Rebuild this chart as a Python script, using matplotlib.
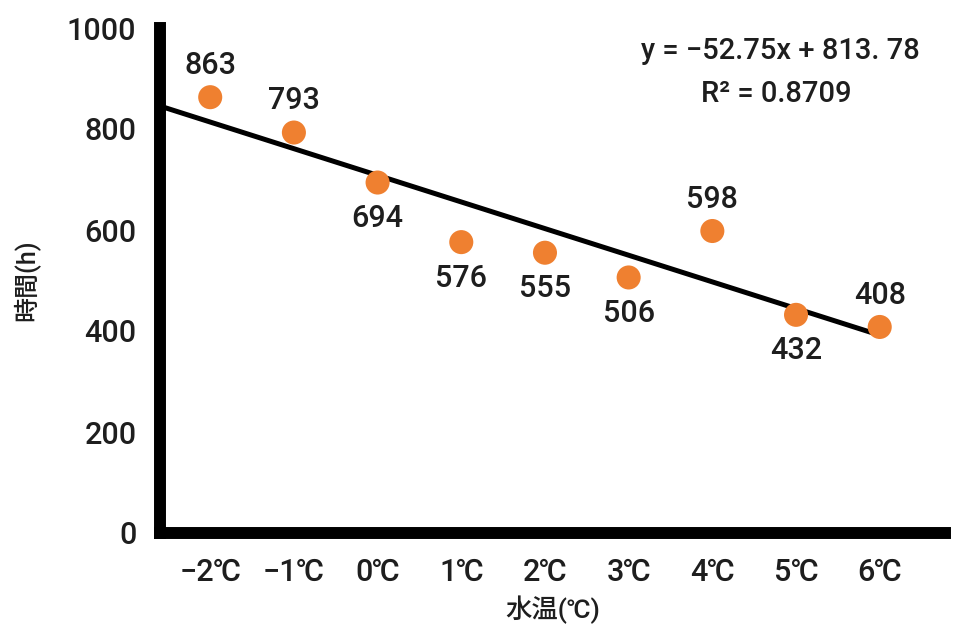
import numpy as np
from matplotlib import pyplot as plt

plt.rcParams['font.family'] = ['Roboto', 'Noto Sans CJK JP', 'DejaVu Sans']

temps = [-2, -1, 0, 1, 2, 3, 4, 5, 6]
tick_labels = ['−2℃', '−1℃', '0℃', '1℃', '2℃', '3℃', '4℃', '5℃', '6℃']
hours = [863, 793, 694, 576, 555, 506, 598, 432, 408]
label_above = [True, True, False, False, False, False, True, False, True]

txt_col = '#1e1e1e'

fig = plt.figure(figsize=(9.57, 6.35), dpi=100)
ax = fig.add_axes([160 / 957, 102 / 635, 785 / 957, 505 / 635])

# trend line, extended back to the axis
slope, icept = np.polyfit(temps, hours, 1)
xl = np.array([-2.6, 6])
ax.plot(xl, slope * xl + icept, color='black', lw=3.6, zorder=2, solid_capstyle='butt')

ax.scatter(temps, hours, s=300, color='#ef8030', edgecolors='none', zorder=3)

for x, y, up in zip(temps, hours, label_above):
    ax.annotate(str(y), (x, y), xytext=(0, 23 if up else -26), textcoords='offset points',
                ha='center', va='center', fontsize=22, fontweight='medium', color=txt_col)

ax.text(0.79, 0.955, 'y = −52.75x + 813. 78', transform=ax.transAxes, ha='center', va='center',
        fontsize=21, fontweight='medium', color=txt_col)
ax.text(0.785, 0.87, 'R² = 0.8709', transform=ax.transAxes, ha='center', va='center',
        fontsize=21, fontweight='medium', color=txt_col)

ax.set_xlim(-2.6, 6.78)
ax.set_ylim(0, 1000)
ax.set_xticks(temps)
ax.set_xticklabels(tick_labels)
ax.set_yticks([0, 200, 400, 600, 800, 1000])
ax.tick_params(length=0, labelsize=22, colors=txt_col)
ax.tick_params(axis='y', pad=17)
ax.tick_params(axis='x', pad=18)
for lab in ax.get_xticklabels() + ax.get_yticklabels():
    lab.set_fontweight('medium')

for s in ['top', 'right']:
    ax.spines[s].set_visible(False)
for s in ['left', 'bottom']:
    ax.spines[s].set_linewidth(8.6)
    ax.spines[s].set_color('black')

ax.set_xlabel('水温(℃)', fontsize=19, fontweight='medium', color=txt_col, labelpad=6)
ax.set_ylabel('時間(h)', fontsize=18, fontweight='medium', color=txt_col, labelpad=19)

plt.savefig('out.png', dpi=100)
